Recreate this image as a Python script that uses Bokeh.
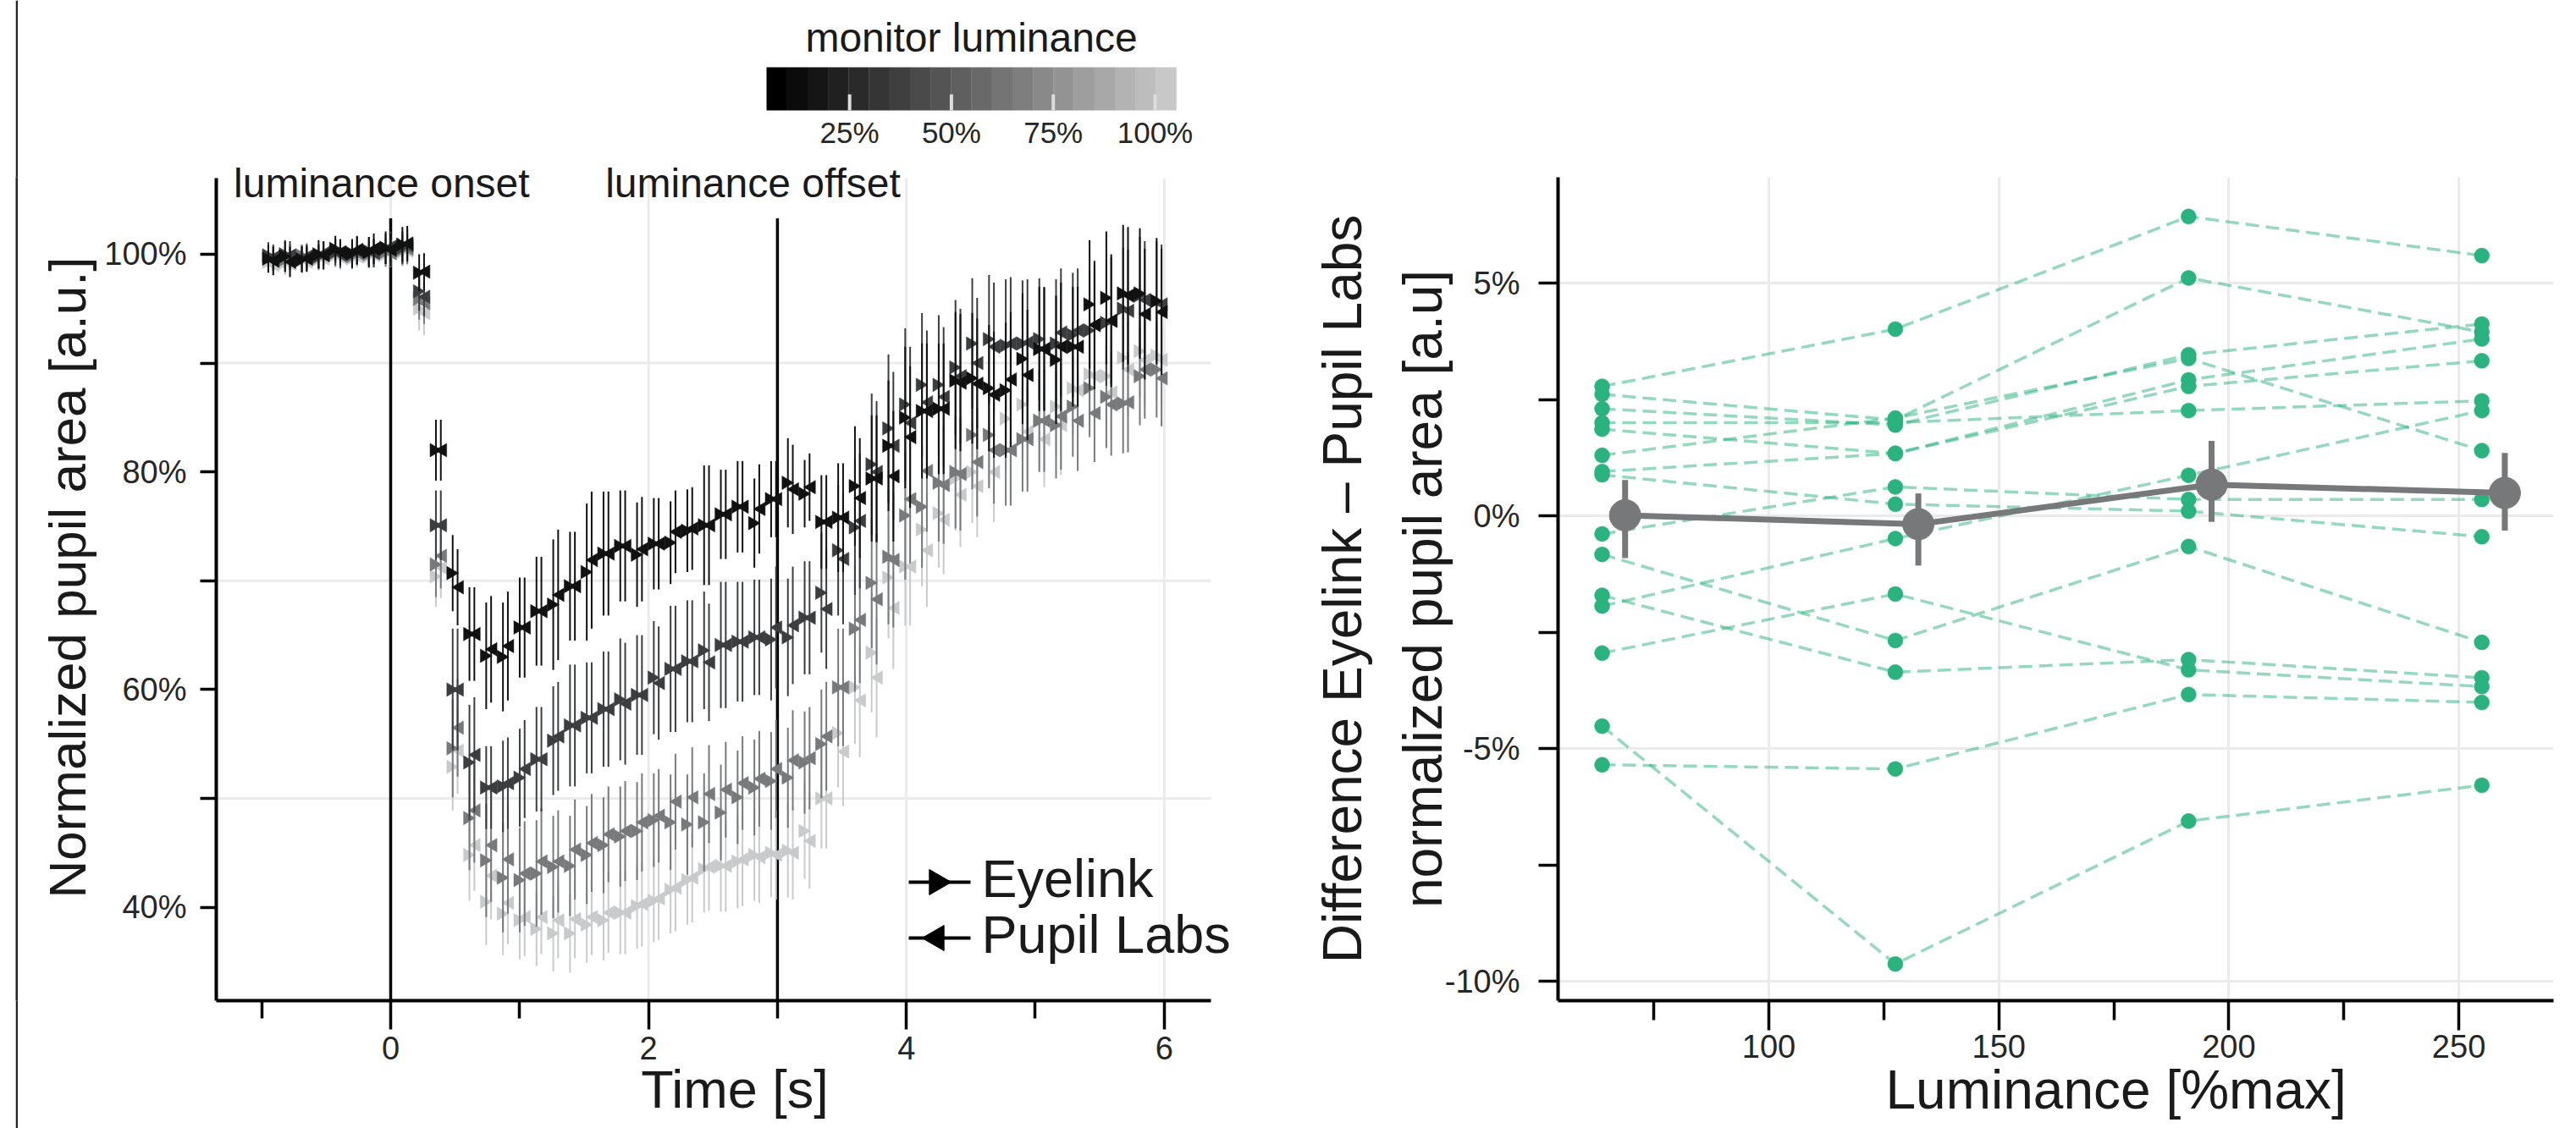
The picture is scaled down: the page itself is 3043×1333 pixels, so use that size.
import math
from bokeh.plotting import figure
from bokeh.models import (ColumnDataSource, FixedTicker, PrintfTickFormatter, Range1d, Spacer)
from bokeh.layouts import row, column
from bokeh.embed import file_html
from bokeh.resources import INLINE
from bokeh.core.properties import value

# ---------------- data: left panel (time course) ----------------
times = [-0.93, -0.80, -0.67, -0.54, -0.41, -0.28, -0.15, -0.02, 0.11, 0.24,
         0.37, 0.50, 0.63, 0.76, 0.89, 1.02, 1.15, 1.28, 1.41, 1.54,
         1.67, 1.80, 1.93, 2.06, 2.19, 2.32, 2.45, 2.58, 2.71, 2.84,
         2.97, 3.10, 3.23, 3.36, 3.49, 3.62, 3.75, 3.88, 4.01, 4.14,
         4.27, 4.40, 4.53, 4.66, 4.79, 4.92, 5.05, 5.18, 5.31, 5.44,
         5.57, 5.70, 5.83, 5.96]

el_25 = [99.6, 99.8, 99.5, 100.0, 100.5, 100.1, 100.2, 100.6, 100.9, 98.3,
         82.0, 70.7, 65.1, 63.1, 63.0, 65.7, 67.2, 67.8, 69.5, 70.8,
         72.5, 73.2, 72.4, 73.4, 73.5, 74.6, 75.1, 76.1, 76.8, 75.3,
         77.5, 79.0, 78.0, 75.4, 75.8, 78.7, 79.4, 82.4, 85.0, 85.6,
         85.8, 88.4, 88.6, 87.7, 87.5, 90.4, 91.3, 90.3, 91.5, 95.4,
         96.0, 96.4, 96.4, 95.7]
pl_25 = [99.4, 99.3, 99.6, 99.9, 100.2, 100.4, 100.5, 100.4, 101.0, 98.4,
         82.0, 69.4, 65.1, 63.7, 64.0, 65.7, 67.2, 68.7, 69.5, 71.9,
         72.5, 73.2, 72.9, 73.4, 74.5, 74.8, 75.1, 76.1, 76.8, 76.6,
         77.5, 78.4, 78.6, 75.4, 75.8, 77.6, 79.4, 79.6, 83.2, 85.6,
         85.8, 88.2, 88.1, 87.1, 88.5, 88.9, 91.3, 91.5, 91.5, 93.5,
         93.9, 96.2, 94.5, 94.7]
err_25 = [1.3, 1.4, 1.2, 1.3, 1.2, 1.3, 1.4, 1.5, 1.6, 1.7,
          2.8, 3.5, 4.3, 4.9, 5.0, 4.6, 5.0, 6.0, 5.0, 6.3,
          5.7, 5.1, 4.8, 4.2, 3.8, 3.8, 5.5, 4.1, 4.2, 4.1,
          3.5, 4.1, 3.1, 4.3, 5.0, 5.5, 5.8, 6.0, 6.5, 6.2,
          6.0, 6.3, 6.0, 5.8, 6.2, 6.0, 5.7, 5.9, 5.5, 5.9,
          6.1, 6.3, 6.0, 5.8]

el_50 = [99.9, 100.0, 99.6, 99.8, 100.2, 100.0, 100.3, 100.5, 100.6, 96.6,
         75.1, 60.0, 53.3, 51.0, 51.1, 51.9, 53.6, 55.3, 56.7, 57.4,
         58.2, 59.1, 59.5, 61.1, 61.9, 62.6, 63.6, 64.1, 64.4, 64.8,
         64.6, 64.8, 66.6, 68.9, 72.8, 74.9, 80.7, 84.0, 86.2, 88.0,
         88.0, 89.6, 91.8, 92.2, 91.6, 91.8, 92.2, 91.8, 92.6, 93.0,
         93.7, 95.0, 96.2, 95.7]
pl_50 = [99.7, 99.9, 99.8, 100.1, 100.0, 100.3, 100.1, 100.7, 100.8, 96.1,
         75.1, 60.0, 54.0, 51.0, 51.4, 52.7, 53.6, 55.7, 56.7, 57.4,
         58.2, 58.7, 59.5, 60.6, 61.9, 62.6, 62.5, 64.1, 64.4, 64.8,
         65.7, 65.9, 66.6, 67.4, 72.0, 75.5, 80.0, 82.4, 84.5, 86.4,
         86.9, 88.8, 90.0, 91.5, 91.8, 91.9, 91.3, 92.8, 93.0, 93.5,
         93.9, 94.8, 95.8, 95.4]
err_50 = [1.2, 1.3, 1.2, 1.1, 1.2, 1.3, 1.3, 1.4, 1.5, 1.8,
          3.2, 5.6, 5.3, 3.8, 4.2, 4.5, 4.8, 5.0, 5.6, 5.1,
          5.3, 5.6, 5.5, 5.2, 5.8, 5.6, 5.4, 5.8, 5.5, 5.3,
          5.6, 5.4, 5.2, 5.5, 6.0, 6.2, 6.5, 6.8, 7.0, 6.6,
          6.4, 6.2, 6.0, 5.9, 6.1, 5.8, 5.6, 5.9, 5.7, 5.5,
          5.8, 5.6, 5.4, 5.5]

el_75 = [99.8, 99.5, 99.9, 99.7, 100.1, 99.8, 100.0, 100.2, 100.4, 95.9,
         71.5, 54.6, 48.2, 44.3, 42.7, 42.5, 43.1, 43.7, 43.8, 44.8,
         45.7, 46.5, 47.0, 48.0, 47.8, 47.6, 47.8, 48.7, 50.1, 51.0,
         51.6, 51.9, 53.3, 55.0, 60.2, 65.6, 69.8, 72.2, 76.0, 76.8,
         79.0, 80.0, 83.4, 83.4, 82.0, 83.0, 84.7, 84.3, 86.0, 87.7,
         86.9, 86.3, 88.8, 89.4]
pl_75 = [99.6, 99.7, 99.6, 100.0, 99.9, 100.1, 100.2, 100.1, 100.5, 95.5,
         72.3, 56.5, 48.9, 45.7, 44.4, 43.1, 44.2, 44.2, 45.3, 45.9,
         46.7, 47.0, 47.8, 48.4, 49.7, 50.1, 50.4, 50.8, 51.4, 51.8,
         52.7, 53.5, 53.7, 55.7, 60.2, 66.4, 68.3, 71.9, 77.5, 80.1,
         78.8, 79.8, 80.9, 82.0, 82.0, 83.0, 84.7, 85.1, 84.7, 85.4,
         86.2, 86.4, 89.4, 88.6]
err_75 = [1.1, 1.2, 1.0, 1.1, 1.2, 1.1, 1.2, 1.3, 1.4, 1.9,
          3.0, 4.5, 4.8, 5.2, 5.0, 4.8, 4.9, 4.7, 4.6, 4.5,
          4.4, 4.6, 4.5, 4.3, 4.4, 4.6, 4.5, 4.4, 4.3, 4.4,
          4.5, 4.6, 4.7, 5.0, 5.4, 5.8, 6.0, 6.2, 5.9, 5.6,
          5.4, 5.2, 5.0, 4.9, 5.1, 4.8, 4.7, 4.9, 4.6, 4.5,
          4.7, 4.6, 4.5, 4.4]

el_100 = [99.3, 99.2, 99.4, 99.5, 99.9, 99.6, 99.8, 100.0, 100.2, 95.0,
          70.4, 52.9, 44.8, 40.5, 39.4, 38.8, 38.0, 37.6, 37.6, 38.4,
          38.8, 39.5, 40.1, 40.6, 41.6, 42.5, 43.5, 43.8, 44.2, 44.8,
          45.0, 45.2, 47.0, 50.0, 56.0, 60.2, 63.4, 70.3, 71.3, 74.7,
          76.2, 79.4, 80.0, 83.4, 84.9, 86.2, 84.7, 86.0, 87.7, 89.0,
          88.8, 90.5, 91.1, 90.7]
pl_100 = [99.0, 99.1, 99.3, 99.6, 99.7, 99.8, 99.9, 100.1, 100.3, 94.6,
          71.2, 54.4, 45.7, 42.9, 40.4, 39.1, 39.1, 38.8, 38.9, 39.1,
          39.5, 39.5, 40.3, 40.8, 41.8, 42.7, 43.7, 43.8, 44.4, 44.6,
          44.8, 45.0, 46.1, 50.0, 54.3, 59.0, 61.1, 67.5, 71.3, 72.8,
          75.6, 77.9, 78.7, 80.0, 82.0, 83.7, 83.0, 84.3, 87.5, 88.8,
          87.3, 89.4, 90.3, 90.3]
err_100 = [1.0, 1.1, 1.0, 1.0, 1.1, 1.0, 1.1, 1.2, 1.3, 2.0,
           2.8, 4.0, 4.2, 4.0, 3.8, 3.6, 3.4, 3.5, 3.6, 3.5,
           3.7, 3.8, 3.9, 3.8, 4.0, 4.1, 4.0, 4.2, 4.3, 4.2,
           4.1, 4.3, 4.4, 4.6, 5.0, 5.2, 5.5, 5.6, 5.4, 5.2,
           5.0, 4.8, 4.7, 4.6, 4.8, 4.5, 4.4, 4.6, 4.3, 4.2,
           4.4, 4.3, 4.2, 4.1]

level_names = ["25%", "50%", "75%", "100%"]
events = [0.0, 3.0]
event_top = 103.3
event_labels = ["luminance onset", "luminance offset"]
event_label_x = [-0.07, 2.81]
event_label_y = [105.1, 105.1]
device_names = ["Eyelink", "Pupil Labs"]

# colour bar (monitor luminance)
cbar_title = "monitor luminance"
cbar_ticks = [25, 50, 75, 100]
cbar_tick_labels = ["25%", "50%", "75%", "100%"]
cbar_low, cbar_high = 4.6, 105.2

# ---------------- data: right panel (difference per subject) ----------------
luminance = [63.75, 127.5, 191.25, 255.0]
diff_64 = [2.78, -4.52, -5.35, -2.95, -0.83, -1.71, -1.94, -0.39, 0.88, 2.61, 2.30, 2.00, 1.86, 1.30, 0.95]
diff_128 = [4.01, -9.63, -5.44, -1.68, -2.68, -3.36, -0.49, 0.62, 0.25, 2.06, 1.95, 2.00, 1.34, 2.10, 1.34]
diff_191 = [6.43, -6.56, -3.84, -3.31, -0.66, -3.09, 0.87, 0.35, 0.10, 5.11, 3.46, 2.26, 2.92, 3.38, 2.78]
diff_255 = [5.59, -5.79, -4.01, -3.67, -2.72, -3.48, 2.26, 0.35, -0.45, 3.95, 4.12, 2.47, 3.80, 1.40, 3.33]
mean_diff = [0.01, -0.18, 0.67, 0.49]
ci_low = [-0.91, -1.07, -0.13, -0.32]
ci_high = [0.77, 0.48, 1.61, 1.35]

# ---------------- style ----------------
FONT = "Liberation Sans"
INK = "#1a1a1a"
TICK_INK = "#262626"
GRID = "#ebebeb"
level_colors = ["#111111", "#3b3d3f", "#77797b", "#c9cacb"]
GREEN = "#2ab27f"
MEAN_GREY = "#76787a"
cbar_palette = ["#000000", "#0b0b0b", "#151515", "#202020", "#2a2a2a", "#353535", "#3f3f3f",
                "#4a4a4a", "#545454", "#5f5f5f", "#696969", "#747474", "#7e7e7e", "#898989",
                "#939393", "#9e9e9e", "#a8a8a8", "#b3b3b3", "#bdbdbd", "#c8c8c8"]
NBSP = "\u00a0"
BASE_FIX = 0.39        # text glyph baseline correction (fraction of font size, px upwards)


def style_axis(ax, major_out, minor_out, standoff, label, label_standoff, size, line_height):
    ax.axis_line_color = "black"
    ax.axis_line_width = 4
    ax.major_tick_line_color = "black"
    ax.minor_tick_line_color = "black"
    ax.major_tick_line_width = 3.5
    ax.minor_tick_line_width = 3.5
    ax.major_tick_in = 0
    ax.minor_tick_in = 0
    ax.major_tick_out = major_out
    ax.minor_tick_out = minor_out
    ax.major_label_standoff = standoff
    ax.major_label_text_font = FONT
    ax.major_label_text_font_size = "38px"
    ax.major_label_text_color = TICK_INK
    ax.axis_label = label
    ax.axis_label_standoff = label_standoff
    ax.axis_label_text_font = FONT
    ax.axis_label_text_font_size = f"{size}px"
    ax.axis_label_text_font_style = "normal"
    ax.axis_label_text_color = INK
    ax.axis_label_text_line_height = line_height


# ---------------- layout constants ----------------
CB_H = 182                              # height of the colour-bar strip above the left plot
LEFT_W = 1499
L_BORDER_L = 234
FRAME_X_PX, FRAME_Y_PX = 255, CB_H      # page position of the left frame's top-left corner

# ---------------- left figure ----------------
LX0, LX_AXIS_END = -1.3526, 6.3625
PX_PER_S = 1175.0 / (LX_AXIS_END - LX0)
LFRAME_W = 1225
LY0 = 31.415
PX_PER_PCT = 12.86
LFRAME_H = 1182 - FRAME_Y_PX
LY1 = LY0 + LFRAME_H / PX_PER_PCT
LX1 = LX0 + LFRAME_W / PX_PER_S
LY_AXIS_END = 107.0

left = figure(frame_width=LFRAME_W, frame_height=LFRAME_H, min_border_left=L_BORDER_L,
              min_border_right=LEFT_W - L_BORDER_L - LFRAME_W, min_border_top=0, min_border_bottom=151,
              x_range=Range1d(LX0, LX1), y_range=Range1d(LY0, LY1),
              output_backend="svg", toolbar_location=None, outline_line_color=None)
style_axis(left.xaxis[0], 34, 21, 8, "Time [s]", -3, 63, 1.2)
style_axis(left.yaxis[0], 19, 19, 16, "Normalized pupil area [a.u.]", 6, 62, 1.2)
x_major = [0, 2, 4, 6]
left.xaxis.ticker = FixedTicker(ticks=x_major, minor_ticks=[-1, 1, 3, 5])
left.xaxis.bounds = (LX0, LX_AXIS_END)
left.yaxis.ticker = FixedTicker(ticks=[40, 60, 80, 100], minor_ticks=[50, 70, 90])
left.yaxis.formatter = PrintfTickFormatter(format="%d%%")
left.yaxis.bounds = (LY0, LY_AXIS_END)
left.xgrid.grid_line_color = None
left.ygrid.grid_line_color = None

# guide lines limited to the extent of the axes
hgrid_y = [50, 70, 90]
left.segment(x0=[LX0] * len(hgrid_y), y0=hgrid_y, x1=[LX_AXIS_END] * len(hgrid_y), y1=hgrid_y,
             line_color=GRID, line_width=3)
left.segment(x0=x_major, y0=[LY0] * len(x_major), x1=x_major, y1=[LY_AXIS_END] * len(x_major),
             line_color=GRID, line_width=3)

left.segment(x0=events, y0=[LY0] * len(events), x1=events, y1=[event_top] * len(events),
             line_color="black", line_width=3.5)
left.text(x=event_label_x, y=[v + BASE_FIX * 48 / PX_PER_PCT for v in event_label_y], text=event_labels,
          text_font=value(FONT), text_font_size="48px", text_color=INK, text_align="center",
          text_baseline="alphabetic")

DODGE = 0.019
TRI = 16
CENT = TRI * 0.866 / 6.0 / PX_PER_S

series = [(level_names[0], level_colors[0], el_25, pl_25, err_25),
          (level_names[1], level_colors[1], el_50, pl_50, err_50),
          (level_names[2], level_colors[2], el_75, pl_75, err_75),
          (level_names[3], level_colors[3], el_100, pl_100, err_100)]

for name, color, el, pl, err in reversed(series):
    for vals, sign, ang in ((el, -1, -math.pi / 2), (pl, 1, math.pi / 2)):
        src = ColumnDataSource(dict(
            xb=[t + sign * DODGE for t in times],
            xm=[t + sign * (DODGE + CENT) for t in times],
            y=vals,
            lo=[v - e for v, e in zip(vals, err)],
            hi=[v + e for v, e in zip(vals, err)]))
        left.segment(x0="xb", y0="lo", x1="xb", y1="hi", source=src, line_color=color, line_width=2)
        left.scatter(x="xm", y="y", source=src, marker="triangle", angle=ang, size=TRI,
                     fill_color=color, line_color=color, line_width=0.5)


# legend (key drawn inside the frame at fixed page positions)
def px_x(px):
    return LX0 + (px - FRAME_X_PX) / PX_PER_S


def px_y(py):
    return LY1 - (py - FRAME_Y_PX) / PX_PER_PCT


key_rows = [1042, 1108]
key_angles = [-math.pi / 2, math.pi / 2]
left.segment(x0=[px_x(1073)] * 2, y0=[px_y(r) for r in key_rows], x1=[px_x(1146)] * 2,
             y1=[px_y(r) for r in key_rows], line_color="black", line_width=4)
left.scatter(x=[px_x(1106)] * 2, y=[px_y(r) for r in key_rows], marker="triangle", angle=key_angles,
             size=30, fill_color="black", line_color="black")
left.text(x=[px_x(1159)] * 2, y=[px_y(r + 20 - BASE_FIX * 63) for r in key_rows], text=device_names,
          text_font=value(FONT), text_font_size="63px", text_color=INK,
          text_align="left", text_baseline="alphabetic")

# ---------------- colour-bar strip (drawn with glyphs, frame aligned with the left frame) ----------------
BAR_L, BAR_R = 905 - FRAME_X_PX, 1389 - FRAME_X_PX     # bar extent relative to the frame
BAR_TOP, BAR_BOT = 79, 130
s = (BAR_R - BAR_L) / (cbar_high - cbar_low)
cb_fig = figure(frame_width=LFRAME_W, frame_height=CB_H, min_border_left=L_BORDER_L,
                min_border_right=LEFT_W - L_BORDER_L - LFRAME_W, min_border_top=0, min_border_bottom=0,
                x_axis_type=None, y_axis_type=None,
                x_range=Range1d(cbar_low - BAR_L / s, cbar_low + (LFRAME_W - BAR_L) / s),
                y_range=Range1d(CB_H, 0), toolbar_location=None,
                output_backend="svg", outline_line_color=None)
cb_fig.grid.visible = False
n = len(cbar_palette)
step = (cbar_high - cbar_low) / n
cb_fig.quad(left=[cbar_low + i * step for i in range(n)],
            right=[cbar_low + (i + 1) * step + 0.05 for i in range(n)],
            top=[BAR_TOP] * n, bottom=[BAR_BOT] * n, fill_color=cbar_palette, line_color=None)
cb_fig.segment(x0=cbar_ticks, y0=[BAR_BOT - 19] * len(cbar_ticks), x1=cbar_ticks,
               y1=[BAR_BOT] * len(cbar_ticks), line_color="#dcdcdc", line_width=4)
cb_fig.text(x=cbar_ticks, y=[170 - BASE_FIX * 35] * len(cbar_ticks), text=cbar_tick_labels,
            text_font=value(FONT), text_font_size="35px", text_color=TICK_INK, text_align="center",
            text_baseline="alphabetic")
cb_fig.text(x=[(cbar_low + cbar_high) / 2], y=[63 - BASE_FIX * 48], text=[cbar_title],
            text_font=value(FONT), text_font_size="48px", text_color=INK, text_align="center",
            text_baseline="alphabetic")

# ---------------- right figure ----------------
RX0, RX1 = 54.17, 270.6
RY0, RY1 = -10.418, 7.273
right = figure(frame_width=1176, frame_height=973, min_border_left=320, min_border_right=27,
               min_border_top=209, min_border_bottom=151,
               x_range=Range1d(RX0, RX1), y_range=Range1d(RY0, RY1),
               output_backend="svg", toolbar_location=None, outline_line_color=None)
style_axis(right.xaxis[0], 35, 23, 5, NBSP * 8 + "Luminance [%max]", -1, 64, 1.2)
style_axis(right.yaxis[0], 23, 23, 22,
           "Difference Eyelink \u2013 Pupil Labs\nnormalized pupil area [a.u]", -13, 64, 1.31)
right.xaxis.ticker = FixedTicker(ticks=[100, 150, 200, 250], minor_ticks=[75, 125, 175, 225])
right.yaxis.ticker = FixedTicker(ticks=[-10, -5, 0, 5], minor_ticks=[-7.5, -2.5, 2.5])
right.yaxis.formatter = PrintfTickFormatter(format="%d%%")
right.xgrid.grid_line_color = GRID
right.xgrid.grid_line_width = 3
right.ygrid.grid_line_color = GRID
right.ygrid.grid_line_width = 3

subjects = list(zip(diff_64, diff_128, diff_191, diff_255))
right.multi_line(xs=[luminance] * len(subjects), ys=[list(v) for v in subjects],
                 line_color=GREEN, line_alpha=0.5, line_width=3.5, line_dash="16 8")
right.scatter(x=[lx for v in subjects for lx in luminance], y=[d for v in subjects for d in v],
              size=18, fill_color=GREEN, line_color=GREEN, line_width=0.5)

MEAN_DODGE = 5.0
mx = [l + MEAN_DODGE for l in luminance]
right.line(x=mx, y=mean_diff, line_color=MEAN_GREY, line_width=7)
right.segment(x0=mx, y0=ci_low, x1=mx, y1=ci_high, line_color=MEAN_GREY, line_width=7)
right.scatter(x=mx, y=mean_diff, size=37, fill_color=MEAN_GREY, line_color=MEAN_GREY)

# ---------------- outer rule + layout ----------------
rule = figure(width=3, height=1333, min_border=0, x_axis_type=None, y_axis_type=None,
              x_range=Range1d(0, 1), y_range=Range1d(0, 1), toolbar_location=None,
              output_backend="svg", outline_line_color=None,
              background_fill_color="#222222", border_fill_color="#222222")
rule.grid.visible = False

layout = row(Spacer(width=18, height=1333), rule, column(cb_fig, left), right)
open("out.html", "w").write(file_html(layout, INLINE))
